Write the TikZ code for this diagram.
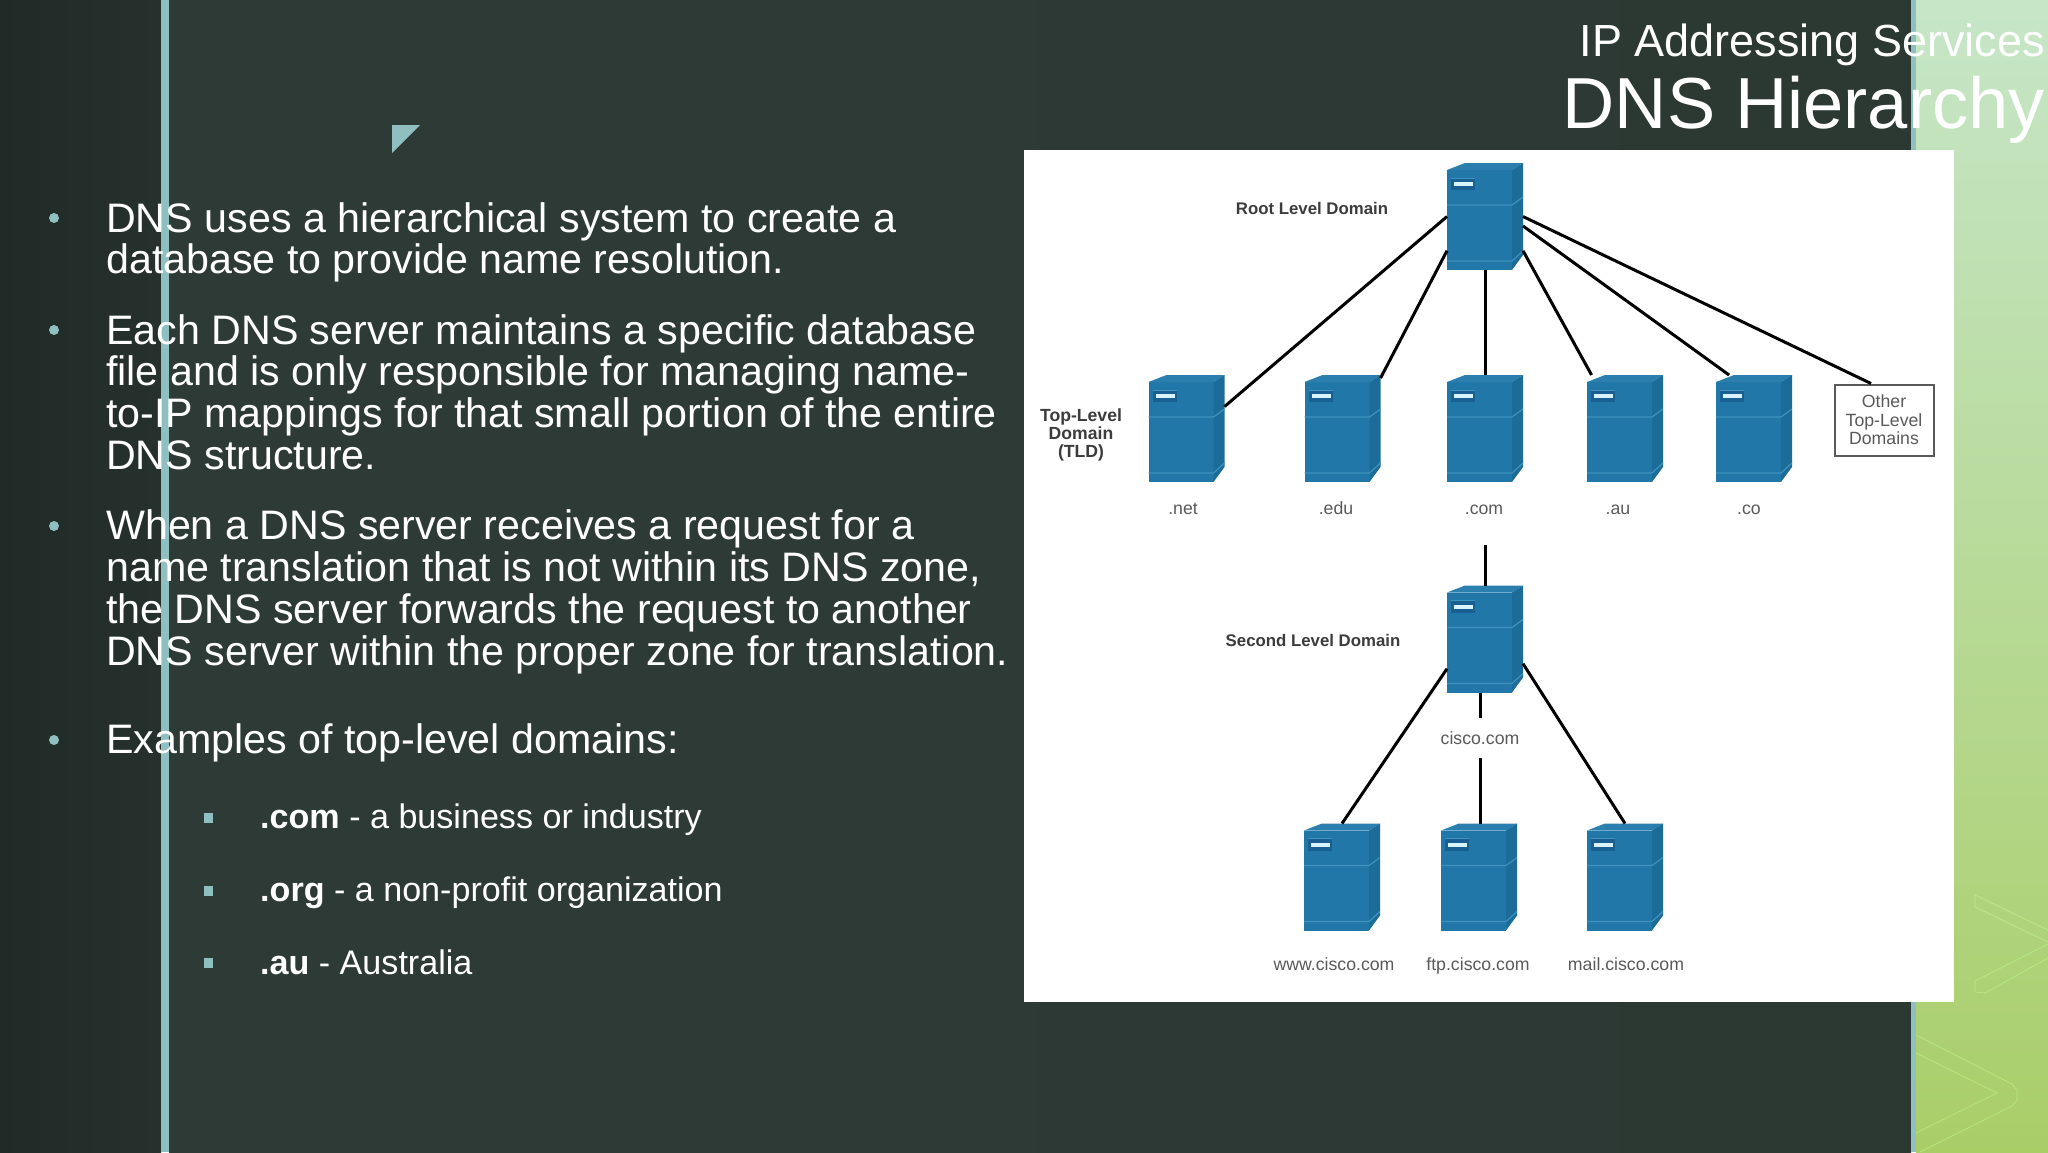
\documentclass[tikz,border=0pt]{standalone}
\usepackage{xcolor}
\usepackage{fontspec}
\setmainfont{Liberation Sans}
\usetikzlibrary{positioning,shapes}

\definecolor{srvfront}{HTML}{2277A9}
\definecolor{srvtop}{HTML}{2A7FAE}
\definecolor{srvside}{HTML}{1C6C99}
\definecolor{srvline}{HTML}{3E92BE}
\definecolor{srvslot}{HTML}{1A5F92}
\definecolor{barteal}{HTML}{8FBFC1}
\definecolor{labelgray}{HTML}{5A5A5A}
\definecolor{labeldark}{HTML}{3C3C3C}

% origin is the middle of the node here
\newcommand{\drawserver}{%
  \fill[srvfront] (-38,-46.5) -- (27,-46.5) -- (27,53.5) -- (-38,53.5) -- cycle;
  \fill[srvtop] (-38,-46.5) -- (-20,-53.5) -- (38,-53.5) -- (27,-46.5) -- cycle;
  \fill[srvside] (27,-46.5) -- (38,-53.5) -- (38,38.5) -- (27,53.5) -- cycle;
  \draw[srvline, line width=1.2pt] (-38,-11.5) -- (27,-11.5) -- (38,-19.5);
  \draw[srvline, line width=1.2pt] (-38,44.5) -- (27,44.5) -- (38,34.5);
  \fill[srvslot] (-34,-38.5) rectangle (-10,-26.5);
  \draw[srvline, line width=0.8pt] (-34,-38.5) -- (-10,-38.5);
  \fill[white!85!cyan] (-31,-34.5) rectangle (-12,-30.5);}

\tikzset{
  server/.style={minimum width=76pt, minimum height=107pt, inner sep=0pt, outer sep=0pt, path picture={\drawserver}},
  link/.style={draw=black, line width=3pt},
  srvlabel/.style={text=labelgray, inner sep=0pt, align=center, font=\fontsize{17.7}{18.5}\selectfont},
  srvname/.style={srvlabel, anchor=base},
  tierlabel/.style={text=labeldark, inner sep=0pt, align=center, font=\fontsize{16.8}{18}\selectfont\bfseries},
  bodytext/.style={text=white, inner sep=0pt, anchor=base west, align=left, font=\fontsize{41.2}{41.7}\selectfont},
  subtext/.style={text=white, inner sep=0pt, anchor=base west, font=\fontsize{34.1}{36}\selectfont},
  dotbullet/.style={circle, fill=barteal, inner sep=0pt, minimum size=10pt},
  sqbullet/.style={rectangle, fill=barteal, inner sep=0pt, minimum width=9pt, minimum height=10pt},
  chevron/.style={draw=white!70!green!80!yellow, line width=0.8pt, opacity=0.5}
}

\begin{document}
\begin{tikzpicture}[x=1pt, y=-1pt]
  \useasboundingbox (0,0) rectangle (2048,1152);

  \shade[left color={rgb,255:red,32;green,42;blue,39}, right color={rgb,255:red,38;green,49;blue,46}] (0,0) rectangle (161,1152);
  \shade[left color={rgb,255:red,46;green,58;blue,54}, right color={rgb,255:red,44;green,57;blue,51}] (169,0) rectangle (1911,1152);
  \shade[top color={rgb,255:red,198;green,230;blue,200}, middle color={rgb,255:red,173;green,222;blue,158}, bottom color={rgb,255:red,169;green,206;blue,104}] (1916,0) rectangle (2048,1152);
  \fill[barteal] (161,0) rectangle (169,1152);
  \fill[barteal] (1911,0) rectangle (1916,1152);
  \fill[barteal] (392,125) -- (420,125) -- (392,153) -- cycle;

  \draw[chevron] (1975,895) -- (1975,907) -- (2048,942);
  \draw[chevron] (1975,895) -- (2048,930);
  \draw[chevron] (2048,944) -- (1975,981) -- (1975,992) -- (1985,993) -- (2048,958);
  \draw[chevron] (1916,1035) -- (2012,1084) -- (2017,1090) -- (2017,1100) -- (2012,1106) -- (1920,1152);
  \draw[chevron] (1916,1053) -- (1997,1093) -- (1916,1133);

  \fill[white] (1024,150) rectangle (1954,1002);

  % title
  \node[text=white, inner sep=0pt, anchor=base east, font=\fontsize{45}{46}\selectfont] (subtitle) at (2045,56) {IP Addressing Services};
  \node[text=white, inner sep=0pt, anchor=base east, font=\fontsize{72.3}{73}\selectfont] (title) at (2045,128) {DNS Hierarchy};

  % left column
  \node[dotbullet] (dot1) at (54,218) {};
  \node[dotbullet] (dot2) at (54,330) {};
  \node[dotbullet] (dot3) at (54,526) {};
  \node[dotbullet] (dot4) at (54,740) {};
  \node[bodytext] (para1) at (106,273.7) {DNS uses a hierarchical system to create a\\database to provide name resolution.};
  \node[bodytext] (para2) at (106,469.3) {Each DNS server maintains a specific database\\file and is only responsible for managing name-\\to-IP mappings for that small portion of the entire\\DNS structure.};
  \node[bodytext] (para3) at (106,665) {When a DNS server receives a request for a\\name translation that is not within its DNS zone,\\the DNS server forwards the request to another\\DNS server within the proper zone for translation.};
  \node[bodytext] (para4) at (106,753) {Examples of top-level domains:};
  \node[sqbullet] (sq1) at (208.5,818) {};
  \node[sqbullet] (sq2) at (208.5,891) {};
  \node[sqbullet] (sq3) at (208.5,963) {};
  \node[subtext] (sub1) at (260,828) {\textbf{.com} - a business or industry};
  \node[subtext] (sub2) at (260,901) {\textbf{.org} - a non-profit organization};
  \node[subtext] (sub3) at (260,974) {\textbf{.au} - Australia};

  % servers
  \node[server] (srvroot) at (1485,216.5) {};
  \node[server] (srvnet) at (1186.5,428.5) {};
  \node[server] (srvedu) at (1342.5,428.5) {};
  \node[server] (srvcom) at (1485,428.5) {};
  \node[server] (srvau) at (1625,428.5) {};
  \node[server] (srvco) at (1754,428.5) {};
  \node[server] (srvcisco) at (1485,639) {};
  \node[server] (srvwww) at (1342,877) {};
  \node[server] (srvftp) at (1479,877) {};
  \node[server] (srvmail) at (1625,877) {};
  \node[draw=labelgray, line width=2pt, minimum width=99pt, minimum height=71pt, inner sep=0pt, srvlabel] (other) at (1884,420) {Other\\Top-Level\\Domains};

  % labels
  \node[tierlabel] (tierroot) at (1312,208) {Root Level Domain};
  \node[tierlabel, font=\fontsize{17.6}{18}\selectfont\bfseries] (tiertld) at (1081,435) {Top-Level\\Domain\\(TLD)};
  \node[tierlabel] (tiersecond) at (1313,640) {Second Level Domain};
  \node[srvname] (lblnet) at (1183,514) {.net};
  \node[srvname] (lbledu) at (1336,514) {.edu};
  \node[srvname] (lblcom) at (1484,514) {.com};
  \node[srvname] (lblau) at (1618,514) {.au};
  \node[srvname] (lblco) at (1749,514) {.co};
  \node[srvlabel, minimum height=40pt] (lblcisco) at (1480,738) {cisco.com};
  \node[srvname] (lblwww) at (1334,970) {www.cisco.com};
  \node[srvname] (lblftp) at (1478,970) {ftp.cisco.com};
  \node[srvname] (lblmail) at (1626,970) {mail.cisco.com};
  \coordinate (stubtop) at (1485,545);

  % connectors
  \draw[link] (srvroot.west) -- (srvnet.30);
  \draw[link] (srvroot.222.6) -- (srvedu.53);
  \draw[link] (srvroot.south) -- (srvcom.north);
  \draw[link] (srvroot.-42.6) -- (srvau.122);
  \draw[link] (srvroot.-14.9) -- (srvco.115);
  \draw[link] (srvroot.east) -- ([xshift=-13pt]other.north);
  \draw[link] (stubtop) -- (stubtop |- srvcisco.north);
  \draw[link] (srvcisco.218.3) -- (srvwww.north);
  \draw[link] (srvcisco.-33) -- (srvmail.north);
  \draw[link] (lblcisco.north) -- (lblcisco.north |- srvcisco.south);
  \draw[link] (lblcisco.south) -- (lblcisco.south |- srvftp.north);
\end{tikzpicture}
\end{document}
